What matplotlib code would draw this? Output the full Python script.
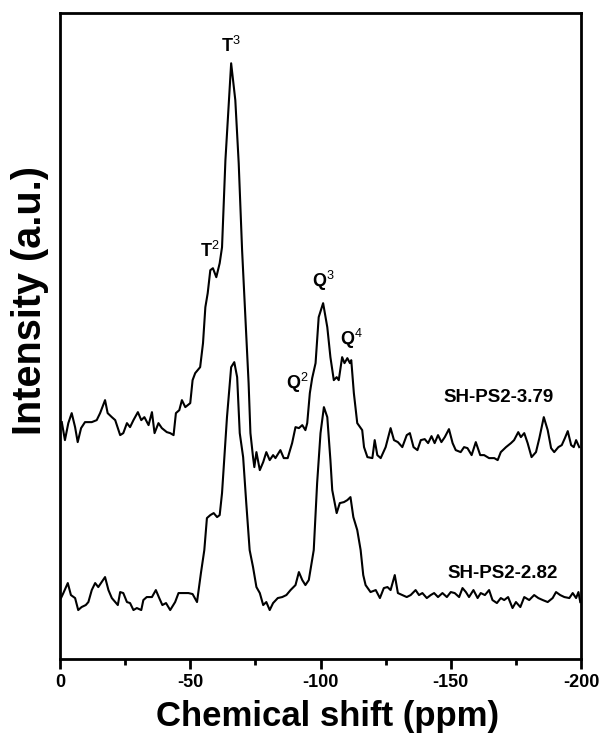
import matplotlib
matplotlib.use("Agg")
import matplotlib.pyplot as plt
from matplotlib.ticker import MultipleLocator

plt.rcParams['font.family'] = ['Liberation Sans', 'DejaVu Sans']
plt.rcParams['mathtext.fontset'] = 'custom'
plt.rcParams['mathtext.rm'] = 'Liberation Sans'
plt.rcParams['mathtext.bf'] = 'Liberation Sans:bold'
plt.rcParams['axes.unicode_minus'] = False

# SH-PS2-3.79 (upper trace)
shift_379 = [-0.7, -1.9, -3.2, -4.5, -5.8, -6.8, -8.1, -9.6, -12.2, -14.1, -15.4, -17.3,
             -18.3, -19.9, -21.2, -23.1, -24.3, -25.7, -26.9, -28.2, -29.9, -31.2, -32.4,
             -34.0, -35.3, -36.3, -37.8, -39.1, -41.0, -42.3, -43.6, -44.5, -45.8, -46.8,
             -48.1, -50.0, -50.9, -51.9, -53.8, -54.9, -55.8, -56.7, -57.7, -58.7, -60.0,
             -61.3, -62.2, -63.5, -65.7, -67.3, -68.6, -69.9, -71.2, -72.4, -73.1, -74.1,
             -74.6, -75.4, -76.7, -78.0, -79.2, -80.5, -81.8, -82.7, -84.6, -85.9, -87.4,
             -89.1, -90.4, -91.7, -93.0, -94.2, -94.9, -95.9, -96.8, -98.1, -99.3, -101.0,
             -102.6, -103.8, -105.1, -106.2, -107.0, -108.3, -109.2, -110.3, -111.3, -111.8,
             -112.8, -114.1, -116.0, -116.7, -118.0, -119.9, -120.8, -121.8, -123.1, -125.0,
             -126.9, -128.2, -129.7, -131.4, -133.1, -134.3, -135.7, -137.2, -138.5, -140.0,
             -141.3, -142.6, -143.8, -145.1, -146.4, -147.7, -149.3, -150.7, -151.9, -153.8,
             -155.1, -156.4, -158.0, -159.6, -161.3, -162.8, -164.7, -166.7, -168.0, -169.2,
             -171.2, -173.1, -174.3, -175.9, -176.9, -178.2, -179.5, -181.0, -182.7, -184.0,
             -185.7, -187.2, -188.5, -189.7, -191.3, -192.6, -193.8, -194.9, -196.2, -197.2,
             -198.1, -199.3]
int_379 = [237, 219, 236, 246, 232, 217, 231, 237, 237, 239, 246, 259,
           246, 242, 239, 224, 226, 236, 232, 239, 247, 239, 242,
           234, 247, 226, 236, 231, 227, 226, 224, 246, 249, 259,
           252, 256, 279, 286, 292, 316, 352, 366, 389, 391, 382,
           396, 412, 499, 596, 559, 496, 409, 339, 276, 226, 202,
           192, 207, 189, 197, 207, 199, 204, 201, 209, 201, 201,
           216, 232, 231, 234, 229, 236, 266, 281, 296, 342, 356,
           332, 302, 279, 282, 279, 302, 296, 301, 296, 299,
           266, 236, 229, 212, 202, 201, 219, 204, 201, 212,
           231, 219, 217, 212, 224, 226, 212, 209, 219, 220,
           216, 223, 216, 224, 217, 222, 230, 216, 209, 207,
           212, 211, 204, 217, 204, 204, 201, 201, 199, 207,
           212, 216, 219, 227, 222, 226, 216, 202, 207, 221,
           242, 229, 211, 207, 212, 214, 221, 228, 214, 212,
           219, 212]

# SH-PS2-2.82 (lower trace)
shift_282 = [-0.4, -1.3, -3.0, -4.2, -5.8, -7.0, -8.3, -9.9, -10.9, -12.2, -13.5, -14.7,
             -16.0, -17.3, -18.6, -19.9, -21.2, -22.2, -23.1, -24.3, -25.7, -26.9, -28.2,
             -29.5, -31.2, -32.0, -33.3, -35.3, -36.8, -38.1, -39.3, -40.7, -42.3, -44.2,
             -45.5, -47.4, -49.3, -50.9, -52.6, -54.1, -55.4, -56.4, -57.7, -59.0, -60.3,
             -61.3, -62.2, -64.1, -65.7, -66.9, -68.0, -69.0, -70.3, -71.5, -72.8, -74.1,
             -75.4, -76.7, -78.0, -79.2, -80.5, -81.8, -83.6, -85.3, -86.9, -88.5, -90.4,
             -91.7, -93.0, -94.2, -95.5, -97.4, -98.7, -100.0, -101.3, -102.6, -103.8,
             -104.5, -106.2, -107.4, -109.0, -110.3, -111.5, -112.6, -114.1, -115.4, -116.4,
             -117.3, -119.2, -121.2, -122.8, -124.3, -125.7, -126.9, -128.5, -129.7, -131.4,
             -133.1, -134.6, -136.5, -137.8, -139.1, -140.8, -142.3, -143.6, -145.1, -146.8,
             -148.5, -150.0, -151.5, -153.2, -154.5, -155.8, -157.0, -158.7, -160.3, -161.5,
             -163.1, -164.7, -166.0, -167.7, -169.2, -170.5, -172.0, -173.7, -175.0, -176.7,
             -178.2, -180.1, -182.0, -183.6, -185.3, -187.2, -189.1, -190.4, -192.0, -193.6,
             -195.5, -196.8, -198.1, -199.0, -199.7]
int_282 = [61, 66, 76, 64, 61, 49, 52, 54, 57, 69, 76, 72,
           77, 82, 69, 61, 57, 54, 67, 66, 57, 56, 49,
           51, 49, 59, 62, 62, 69, 61, 54, 56, 49, 57,
           66, 66, 66, 65, 57, 86, 109, 141, 144, 146, 142,
           144, 166, 242, 292, 297, 282, 226, 202, 156, 109, 92,
           72, 66, 54, 57, 49, 56, 61, 62, 64, 69, 74,
           87, 79, 74, 79, 109, 176, 226, 252, 242, 199,
           169, 146, 156, 157, 159, 162, 142, 129, 109, 84,
           74, 67, 69, 61, 71, 72, 69, 84, 66, 64,
           62, 64, 69, 64, 66, 61, 64, 66, 62, 66,
           62, 67, 66, 62, 71, 67, 62, 69, 61, 66,
           64, 69, 59, 56, 61, 59, 62, 51, 57, 52,
           62, 59, 64, 61, 59, 57, 61, 67, 64, 62,
           61, 66, 61, 67, 57]

peak_labels = ['T', 'T', 'Q', 'Q', 'Q']
peak_sups = ['3', '2', '3', '2', '4']
peak_shift = [-65.5, -57.5, -101.0, -91.0, -112.0]
peak_height = [603, 398, 366, 264, 308]

sample_names = ['SH-PS2-3.79', 'SH-PS2-2.82']
sample_shift = [-168.5, -170.0]
sample_height = [262, 86]

fig = plt.figure(figsize=(6.04, 7.38), dpi=100)
ax = fig.add_axes([0.0993, 0.107, 0.8627, 0.875])

ax.plot(shift_379, int_379, color='black', lw=1.5)
ax.plot(shift_282, int_282, color='black', lw=1.5)

for lab, sup, x, y in zip(peak_labels, peak_sups, peak_shift, peak_height):
    ax.text(x, y, r'$\mathbf{%s}^{\mathrm{%s}}$' % (lab, sup), fontsize=13,
            ha='center', va='bottom')

for name, x, y in zip(sample_names, sample_shift, sample_height):
    ax.text(x, y, name, fontsize=13.5, fontweight='bold', ha='center', va='center')

ax.set_xlim(0, -200)
ax.set_ylim(0, 646)
ax.xaxis.set_major_locator(MultipleLocator(50))
ax.xaxis.set_minor_locator(MultipleLocator(25))
ax.set_yticks([])
for s in ax.spines.values():
    s.set_linewidth(2)
ax.tick_params(axis='x', which='major', direction='out', length=7, width=2,
               labelsize=13, pad=4, top=False)
ax.tick_params(axis='x', which='minor', direction='out', length=4, width=2, top=False)
for t in ax.get_xticklabels():
    t.set_fontweight('bold')

ax.set_xlabel('Chemical shift (ppm)', fontsize=25, fontweight='bold')
ax.xaxis.set_label_coords(0.513, -0.063)
ax.set_ylabel('Intensity (a.u.)', fontsize=28.5, fontweight='bold')
ax.yaxis.set_label_coords(-0.022, 0.555)

fig.savefig('out.png', dpi=100)
